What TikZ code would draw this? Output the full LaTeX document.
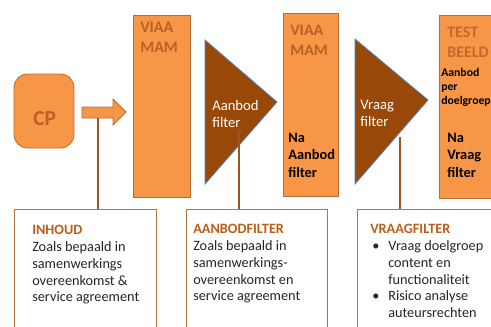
\documentclass[tikz,border=0pt]{standalone}
\usepackage{fontspec}
\setmainfont{Carlito}
\definecolor{mamfill}{HTML}{F79646}
\definecolor{mamline}{HTML}{B66D31}
\definecolor{mamtext}{HTML}{B7622A}
\definecolor{filterfill}{HTML}{984807}
\definecolor{filterline}{HTML}{4F81BD}
\definecolor{linkbrown}{HTML}{9C5427}
\definecolor{noteline}{HTML}{B8743F}
\definecolor{notetitle}{HTML}{BC5F1C}
\tikzset{
  mamshape/.style={fill=mamfill, draw=mamline, line width=0.6pt},
  filtershape/.style={fill=filterfill, draw=filterline, line width=0.6pt},
  link/.style={draw=linkbrown, line width=1.1pt},
  notebox/.style={draw=noteline, line width=0.6pt, fill=white, anchor=north west, inner sep=0pt, minimum height=98pt},
  mamlabel/.style={font=\fontsize{12}{15}\selectfont\bfseries, text=mamtext, align=left, anchor=north west, inner sep=0pt},
  stagelabel/.style={font=\fontsize{10.8}{13}\selectfont\bfseries, text=black, align=left, anchor=north west, inner sep=0pt},
  filterlabel/.style={font=\fontsize{11}{12.8}\selectfont, text=white, align=left, anchor=north west, inner sep=0pt},
  notetext/.style={font=\fontsize{10.7}{12.6}\selectfont, text=black!85, align=left, anchor=north west, inner sep=0pt}
}
\begin{document}
\begin{tikzpicture}[x=0.75pt,y=0.75pt,yscale=-1]
\useasboundingbox (0,0) rectangle (491,326);
\clip (0,0) rectangle (491,326);

%Rounded Rect: CP
\draw[mamshape, rounded corners=10pt] (14,74) rectangle (74,148);
\node[font=\fontsize{16}{18}\selectfont\bfseries, text=mamtext, anchor=base west, inner sep=0pt] (cp) at (33,125) {CP};

%Right Arrow
\draw[mamshape] (82,107) -- (113,107) -- (113,99) -- (126,112) -- (113,125) -- (113,118) -- (82,118) -- cycle;

%Shape: Rectangle VIAA MAM
\draw[mamshape] (133,15) rectangle (190,197);
\node[mamlabel] (mamone) at (140,22) {VIAA\\MAM};

%Shape: Triangle aanbod
\draw[filtershape] (205,40) -- (277,102) -- (205,184) -- cycle;
\node[filterlabel] (aanbodtri) at (212,100) {Aanbod\\filter};

%Shape: Rectangle VIAA MAM na aanbod
\draw[mamshape] (283,13) rectangle (338,196);
\node[mamlabel] (mamtwo) at (290,25) {VIAA\\MAM};
\node[stagelabel] (naaanbod) at (288,133) {Na\\Aanbod\\filter};

%Shape: Triangle vraag
\draw[filtershape] (355,39) -- (428,100) -- (355,184) -- cycle;
\node[filterlabel] (vraagtri) at (360,100) {Vraag\\filter};

%Shape: Rectangle test beeld
\draw[mamshape] (439,15) rectangle (500,198);
\node[mamlabel, text=mamtext!85!mamfill] (testbeeld) at (447,27) {TEST\\BEELD};
\node[stagelabel, font=\fontsize{8.8}{10.6}\selectfont\bfseries] (perdoelgroep) at (441,68) {Aanbod\\per\\doelgroep};
\node[stagelabel] (navraag) at (447,133) {Na\\Vraag\\filter};

%Note boxes
\node[notebox, minimum width=106.5pt] (inhoudbox) at (14,209) {};
\node[notebox, minimum width=105.75pt] (aanbodbox) at (186,209) {};
\node[notebox, minimum width=107pt] (vraagbox) at (357,209) {};

\node[notetext] (inhoud) at (32,225) {\textbf{\textcolor{notetitle}{INHOUD}}\\Zoals bepaald in\\samenwerkings\\overeenkomst \&\\service agreement};
\node[notetext] (aanbod) at (193,224) {\textbf{\textcolor{notetitle}{AANBODFILTER}}\\Zoals bepaald in\\samenwerkings-\\overeenkomst en\\service agreement};
\node[notetext] (vraag) at (370,224) {\textbf{\textcolor{notetitle}{VRAAGFILTER}}\\
  \hspace*{1.5pt}\makebox[12pt][l]{\textbullet}Vraag doelgroep\\
  \hspace*{13.5pt}content en\\
  \hspace*{13.5pt}functionaliteit\\
  \hspace*{1.5pt}\makebox[12pt][l]{\textbullet}Risico analyse\\
  \hspace*{13.5pt}auteursrechten};

%Straight Lines
\coordinate (inhoudlink) at (98,118);
\coordinate (aanbodlink) at (239,130);
\coordinate (vraaglink) at (400,137);
\draw[link] (inhoudlink) -- (inhoudlink |- inhoudbox.north);
\draw[link] (aanbodlink) -- (aanbodlink |- aanbodbox.north);
\draw[link] (vraaglink) -- (vraaglink |- vraagbox.north);
\end{tikzpicture}
\end{document}
